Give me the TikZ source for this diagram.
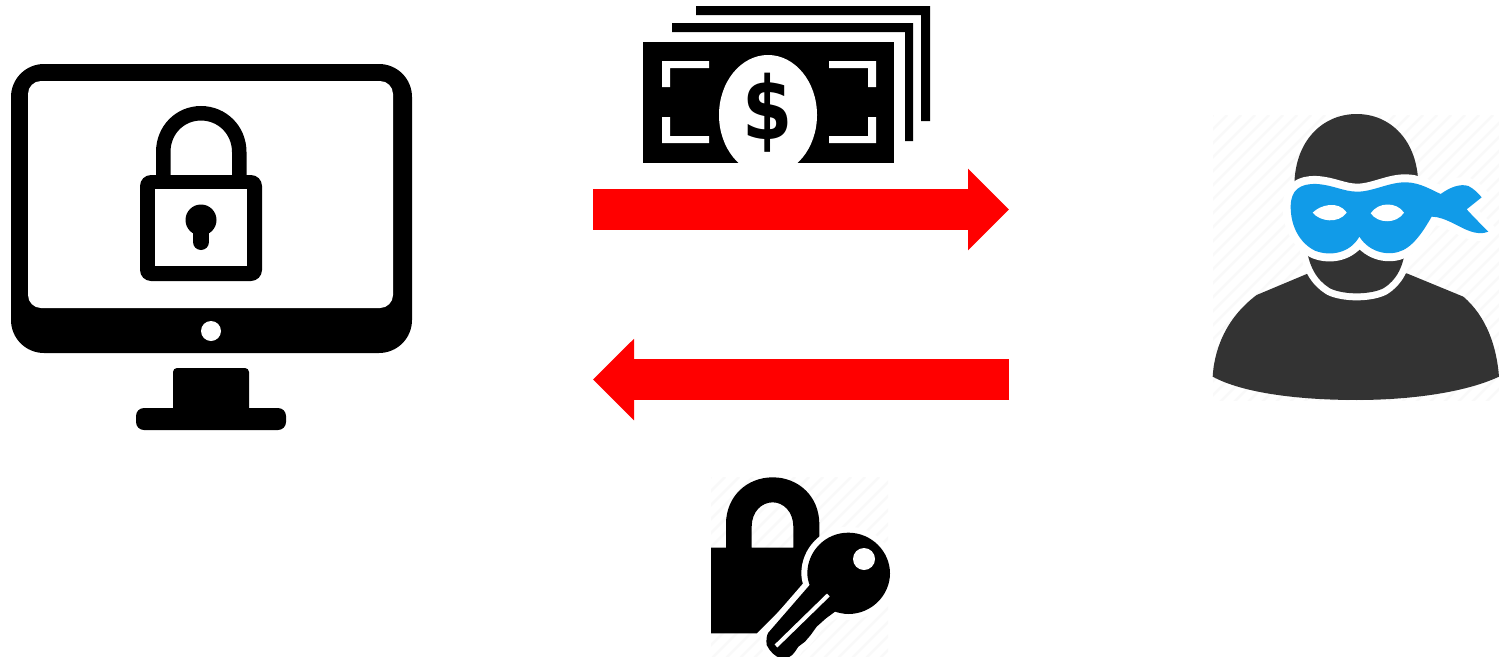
\documentclass[tikz,border=0pt]{standalone}
\usepackage{fontspec}
\setmainfont{Liberation Sans}
\newfontfamily\dollarfont{DejaVu Sans}
\usetikzlibrary{arrows.meta}
\definecolor{thiefdark}{HTML}{333333}
\definecolor{maskblue}{HTML}{119BE8}
\definecolor{hatchgrey}{HTML}{F9F9F9}
\tikzset{
  bigarrow/.style={draw=red,line width=41pt,-{Triangle[length=41pt,width=79pt]}},
  ink/.style={fill=black,draw=none},
  blank/.style={fill=white,draw=none},
  hatching/.style={draw=hatchgrey,line width=2.5pt},
  zoomed/.style={x=0.33333pt,y=-0.33333pt},
  halo/.style 2 args={draw=white,line width=#1,line join=round,postaction={fill=#2,draw=none}}
}
\begin{document}
\begin{tikzpicture}[x=1pt,y=-1pt]
\useasboundingbox (0,0) rectangle (1499,656);
\fill[white] (0,0) rectangle (1499,656);

% ---------- monitor
\fill[ink,rounded corners=33pt] (11,64) rectangle (412,353);
\fill[blank,rounded corners=13pt] (28,81) rectangle (393,308);
\fill[blank] (211,331) circle (10);
\fill[ink,rounded corners=4pt] (173,368) rectangle (249,415);
\fill[ink,rounded corners=8pt] (136,408) rectangle (286,430);
% padlock on screen
\draw[line width=14.5pt] (163.25,180) -- (163.25,152) .. controls (163.25,130) and (180,113.25) .. (201,113.25) .. controls (222,113.25) and (239.25,130) .. (239.25,152) -- (239.25,180);
\fill[ink,rounded corners=11pt] (140,175) rectangle (262,281);
\fill[blank] (155,189) rectangle (247,266);
\fill[ink] (201,220) circle (15.5);
\draw[line width=16pt,line cap=round] (201,224) -- (201,242);

% ---------- banknotes
\fill[ink] (696,6) -- (930,6) -- (930,121) -- (921,121) -- (921,15) -- (696,15) -- cycle;
\fill[ink] (672,23) -- (913,23) -- (913,141) -- (905,141) -- (905,32) -- (672,32) -- cycle;
\fill[ink] (643,42) rectangle (894,163);
\begin{scope}
\clip (643,42) rectangle (894,163);
\fill[blank] (768,115) ellipse [x radius=49,y radius=60];
\end{scope}
\fill[blank] (662,61) -- (709,61) -- (709,68) -- (670,68) -- (670,87) -- (662,87) -- cycle;
\fill[blank] (662,117) -- (670,117) -- (670,136) -- (709,136) -- (709,143) -- (662,143) -- cycle;
\fill[blank] (876,61) -- (829,61) -- (829,68) -- (868,68) -- (868,87) -- (876,87) -- cycle;
\fill[blank] (876,117) -- (868,117) -- (868,136) -- (829,136) -- (829,143) -- (876,143) -- cycle;
\node[inner sep=0pt,font=\dollarfont\bfseries\fontsize{84}{84}\selectfont] (dollar) at (767.5,113) {\scalebox{0.86}[1.04]{\$}};

% ---------- arrows
\coordinate (payFrom) at (593,209.5);
\coordinate (payTo) at (1009,209.5);
\coordinate (keyFrom) at (1009,379.5);
\coordinate (keyTo) at (593,379.5);
\draw[bigarrow] (payFrom) -- (payTo);
\draw[bigarrow] (keyFrom) -- (keyTo);

% ---------- thief
\begin{scope}
\clip (1213,115) rectangle (1499,400);
\foreach \k in {0,14,...,580} {
  \draw[hatching] (1213+\k,115) -- (1213+\k-300,415);
}
\end{scope}
\begin{scope}[shift={(1200,100)},zoomed]
\fill[thiefdark] (38,830) .. controls (42,760) and (70,660) .. (170,585)
  -- (325,520) -- (620,520) -- (790,590)
  .. controls (860,650) and (890,740) .. (897,830)
  .. controls (790,880) and (620,900) .. (470,900)
  .. controls (300,900) and (130,880) .. (38,830) -- cycle;
\path[halo={14pt}{thiefdark}]
  (318,430) .. controls (325,500) and (350,540) .. (390,565)
  .. controls (430,585) and (510,585) .. (550,565)
  .. controls (590,540) and (612,500) .. (618,430) -- (478,400) -- cycle;
\fill[thiefdark] (283,260) .. controls (283,120) and (370,42) .. (470,42)
  .. controls (570,42) and (655,120) .. (655,260) -- cycle;
\path[halo={16pt}{maskblue}]
  (272,320) .. controls (272,270) and (300,250) .. (350,252)
  .. controls (400,255) and (430,275) .. (472,275)
  .. controls (520,275) and (570,245) .. (620,247)
  .. controls (660,248) and (695,270) .. (722,282)
  .. controls (750,262) and (780,250) .. (805,258)
  .. controls (820,265) and (835,280) .. (845,292)
  -- (800,328)
  .. controls (820,350) and (845,375) .. (865,395)
  .. controls (830,410) and (790,385) .. (760,370)
  .. controls (735,358) and (715,350) .. (695,350)
  .. controls (680,375) and (650,430) .. (610,450)
  .. controls (570,470) and (510,460) .. (478,410)
  .. controls (450,460) and (390,470) .. (345,452)
  .. controls (300,430) and (272,380) .. (272,320) -- cycle;
\fill[blank] (338,338) .. controls (360,315) and (415,300) .. (440,338)
  .. controls (415,372) and (360,365) .. (338,338) -- cycle;
\fill[blank] (512,340) .. controls (535,305) and (590,305) .. (612,338)
  .. controls (590,372) and (535,372) .. (512,340) -- cycle;
\end{scope}

% ---------- padlock and key
\begin{scope}
\clip (711,477) rectangle (888,656);
\foreach \k in {0,14,...,360} {
  \draw[hatching] (711+\k,477) -- (711+\k-190,667);
}
\end{scope}
\begin{scope}[shift={(700,470)},zoomed]
\fill[ink,even odd rule] (78,233) -- (78,162) .. controls (78,80) and (140,22) .. (218,22)
  .. controls (296,22) and (358,80) .. (358,162) -- (358,300) -- (300,360) -- (170,490) -- (33,490) -- (33,233) -- cycle
  (155,233) -- (280,233) -- (280,170) .. controls (280,125) and (250,97) .. (218,97)
  .. controls (185,97) and (155,125) .. (155,170) -- cycle;
\path[halo={12pt}{black}]
  (445,188) .. controls (375,188) and (322,245) .. (322,310)
  .. controls (322,322) and (325,335) .. (329,345)
  -- (205,488) .. controls (200,495) and (198,510) .. (200,525)
  .. controls (210,545) and (225,560) .. (245,566)
  .. controls (262,566) and (275,560) .. (285,545)
  -- (295,530) -- (315,515) -- (332,495) -- (350,470) -- (378,445) -- (405,425)
  .. controls (415,428) and (430,432) .. (445,432)
  .. controls (515,432) and (570,375) .. (570,310)
  .. controls (570,245) and (515,188) .. (445,188) -- cycle;
\fill[blank] (492,267) circle (33);
\draw[white,line width=4pt] (385,375) -- (228,528);
\end{scope}
\end{tikzpicture}
\end{document}
